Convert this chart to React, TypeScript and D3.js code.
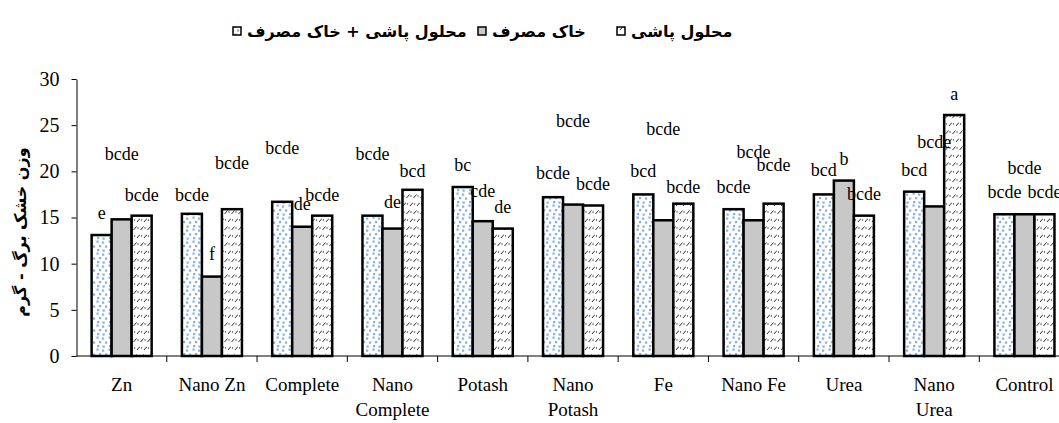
import { useEffect, useRef } from 'react'
import * as d3 from 'd3'

const categories = ['Zn', 'Nano Zn', 'Complete', 'Nano\nComplete', 'Potash', 'Nano\nPotash', 'Fe', 'Nano Fe', 'Urea', 'Nano\nUrea', 'Control']
const seriesNames = ['محلول پاشی + خاک مصرف', 'خاک مصرف', 'محلول پاشی']

const foliarSoil = [13.1, 15.4, 16.7, 15.2, 18.3, 17.2, 17.5, 15.9, 17.5, 17.8, 15.35]
const soil = [14.8, 8.6, 14.0, 13.8, 14.6, 16.4, 14.7, 14.7, 19.0, 16.2, 15.35]
const foliar = [15.2, 15.9, 15.2, 18.0, 13.8, 16.3, 16.5, 16.5, 15.2, 26.1, 15.35]

// significance letters and the value level where each one sits
const foliarSoilLetters = ['e', 'bcde', 'bcde', 'bcde', 'bc', 'bcde', 'bcd', 'bcde', 'bcd', 'bcd', 'bcde']
const foliarSoilLabelAt = [15.5, 17.4, 22.5, 21.9, 20.7, 19.8, 20.0, 18.3, 20.1, 20.1, 17.7]
const soilLetters = ['bcde', 'f', 'de', 'de', 'cde', 'bcde', 'bcde', 'bcde', 'b', 'bcde', 'bcde']
const soilLabelAt = [21.8, 11.0, 16.4, 16.6, 17.8, 25.4, 24.6, 22.1, 21.3, 23.2, 20.3]
const foliarLetters = ['bcde', 'bcde', 'bcde', 'bcd', 'de', 'bcde', 'bcde', 'bcde', 'bcde', 'a', 'bcde']
const foliarLabelAt = [17.4, 20.9, 17.4, 20.0, 16.1, 18.6, 18.3, 20.7, 17.5, 28.3, 17.7]

const yTicks = [0, 5, 10, 15, 20, 25, 30]
const yLabel = 'وزن خشک برگ - گرم'

const App = () => {
  const width = 1059
  const height = 423
  const svgRef = useRef<SVGSVGElement>(null)

  useEffect(() => {
    const svg = d3.select(svgRef.current)
    svg.selectAll('*').remove()

    const serif = "'Liberation Serif', 'Times New Roman', serif"
    const arabic = "'DejaVu Sans', sans-serif"

    const defs = svg.append('defs')
    const dots = defs.append('pattern').attr('id', 'dots').attr('patternUnits', 'userSpaceOnUse')
      .attr('width', 12).attr('height', 12)
    dots.append('rect').attr('width', 12).attr('height', 12).attr('fill', '#fff')
    ;[[0.5, 0.5], [6, 1.5], [3, 5], [9, 5.5], [1, 9], [6.5, 9.5]].forEach(([x, y]) => {
      dots.append('rect').attr('x', x).attr('y', y).attr('width', 2.2).attr('height', 2.2).attr('fill', '#84afe0')
    })
    const hatch = defs.append('pattern').attr('id', 'hatch').attr('patternUnits', 'userSpaceOnUse')
      .attr('width', 7).attr('height', 16)
    hatch.append('rect').attr('width', 7).attr('height', 16).attr('fill', '#fff')
    hatch.append('path').attr('d', 'M0.5,6 L3.5,2.5 M4,14 L7,10.5').attr('stroke', '#333').attr('stroke-width', 1)
    hatch.append('circle').attr('cx', 5).attr('cy', 4).attr('r', 0.7).attr('fill', '#333')
    hatch.append('circle').attr('cx', 1.5).attr('cy', 12).attr('r', 0.7).attr('fill', '#333')

    const fills = ['url(#dots)', '#c8c8c8', 'url(#hatch)']
    const series = [foliarSoil, soil, foliar]
    const letters = [foliarSoilLetters, soilLetters, foliarLetters]
    const labelAt = [foliarSoilLabelAt, soilLabelAt, foliarLabelAt]

    const left = 76.5
    const step = 90.28
    const x0 = d3.scaleBand<string>()
      .domain(categories)
      .range([left, left + step * categories.length])
      .paddingInner(0.335)
      .paddingOuter(0.1675)
    const x1 = d3.scaleBand<number>()
      .domain([0, 1, 2])
      .range([0, x0.bandwidth()])
    const y = d3.scaleLinear().domain([0, 30]).range([356, 79])

    // y axis
    const yAxis = svg.append('g')
      .attr('transform', `translate(${left},0)`)
      .call(d3.axisLeft(y).tickValues(yTicks).tickSize(5).tickPadding(12).tickSizeOuter(0))
    yAxis.attr('font-family', null).attr('font-size', null)
    yAxis.selectAll('text').style('font-family', serif).style('font-size', '20px').attr('fill', '#000')
    yAxis.select('.domain').attr('stroke', '#000')

    // x axis line and boundary ticks
    svg.append('line')
      .attr('x1', left).attr('x2', width)
      .attr('y1', y(0)).attr('y2', y(0))
      .attr('stroke', '#000')
    categories.forEach(c => {
      const bx = (x0(c) as number) + x0.bandwidth() + (x0.step() - x0.bandwidth()) / 2
      svg.append('line')
        .attr('x1', bx).attr('x2', bx)
        .attr('y1', y(0)).attr('y2', y(0) + 6)
        .attr('stroke', '#000')
    })

    // bars
    series.forEach((vals, s) => {
      svg.append('g').selectAll('rect').data(vals).join('rect')
        .attr('x', (d, i) => (x0(categories[i]) as number) + (x1(s) as number))
        .attr('y', d => y(d))
        .attr('width', x1.bandwidth())
        .attr('height', d => y(0) - y(d))
        .attr('fill', fills[s])
        .attr('stroke', '#000')
        .attr('stroke-width', 2.5)
    })

    // letters
    series.forEach((vals, s) => {
      svg.append('g').selectAll('text').data(letters[s]).join('text')
        .attr('x', (d, i) => (x0(categories[i]) as number) + (x1(s) as number) + x1.bandwidth() / 2)
        .attr('y', (d, i) => y(labelAt[s][i]))
        .attr('dy', '0.32em')
        .attr('text-anchor', 'middle')
        .style('font-family', serif)
        .style('font-size', '18px')
        .text(d => d)
    })

    // category labels
    categories.forEach(c => {
      const cx = (x0(c) as number) + x0.bandwidth() / 2
      const t = svg.append('text')
        .attr('x', cx)
        .attr('y', 391)
        .attr('text-anchor', 'middle')
        .style('font-family', serif)
        .style('font-size', '19px')
      c.split('\n').forEach((line, i) => {
        t.append('tspan').attr('x', cx).attr('dy', i === 0 ? 0 : 25).text(line)
      })
    })

    // y label
    svg.append('text')
      .attr('transform', 'translate(26,232) rotate(-90)')
      .attr('text-anchor', 'middle')
      .style('font-family', arabic)
      .style('font-size', '16px')
      .style('font-weight', 'bold')
      .text(yLabel)

    // legend
    const legendX = [233, 478, 617]
    seriesNames.forEach((name, s) => {
      svg.append('rect')
        .attr('x', legendX[s]).attr('y', 27)
        .attr('width', 8).attr('height', 8)
        .attr('fill', fills[s])
        .attr('stroke', '#000')
        .attr('stroke-width', 1.5)
      svg.append('text')
        .attr('x', legendX[s] + 14)
        .attr('y', 37)
        .style('font-family', arabic)
        .style('font-size', '16px')
        .style('font-weight', 'bold')
        .text(name)
    })
  }, [])

  return (
    <svg ref={svgRef} width={width} height={height}
      style={{ position: 'absolute', left: 0, top: 0, background: '#fff' }}></svg>
  )
}

export default App
